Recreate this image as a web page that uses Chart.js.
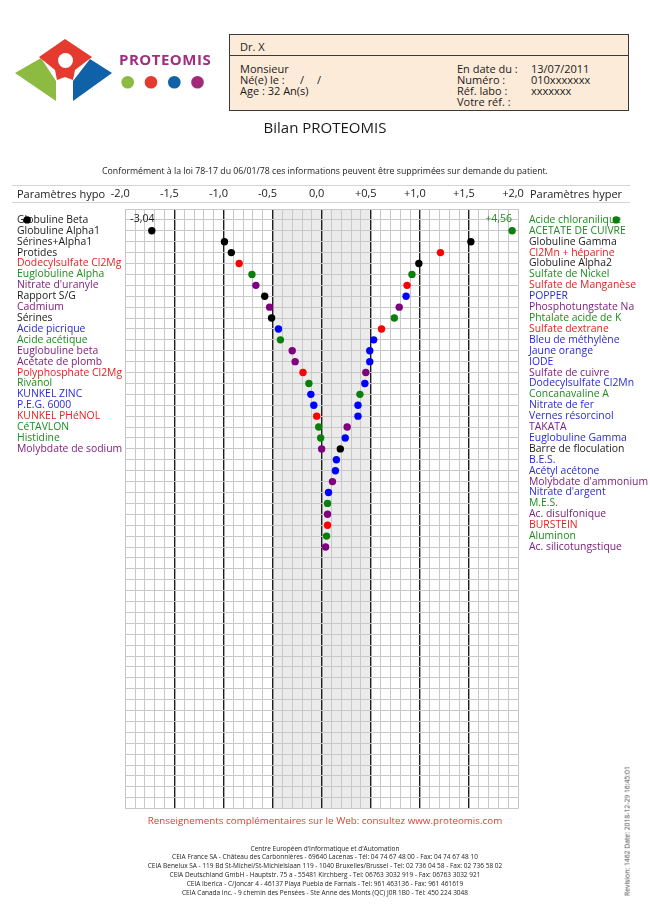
<!DOCTYPE html>
<html><head><meta charset="utf-8">
<script src="https://cdn.jsdelivr.net/npm/chart.js@4.4.1/dist/chart.umd.min.js"></script>
<style>
html,body{margin:0;padding:0;background:#fff;}
body{width:650px;height:918px;position:relative;overflow:hidden;font-family:'Open Sans',sans-serif;color:#1a1a1a;}
.t{position:absolute;white-space:nowrap;line-height:1;}
#c{position:absolute;left:0;top:0;}
</style></head><body>
<canvas id="c" width="650" height="918"></canvas>

<svg style="position:absolute;left:0;top:0" width="230" height="110">
  <polygon points="15,73 41,58 56,81 56,101" fill="#8dba41"/>
  <polygon points="39,57 65,39 92,57 75,70 73,80 65,77 57,80 55,70" fill="#e53a2f"/>
  <circle cx="65.5" cy="60.5" r="7.5" fill="#fff"/>
  <polygon points="90,59 112,73 73,101 73,81" fill="#0f62a8"/>
  <circle cx="127.7" cy="82.3" r="6.3" fill="#8dba41"/>
  <circle cx="151" cy="82.3" r="6.3" fill="#e53a2f"/>
  <circle cx="174.3" cy="82.3" r="6.3" fill="#0f62a8"/>
  <circle cx="197.5" cy="82.3" r="6.3" fill="#a22a7b"/>
</svg>
<div class="t" style="left:119px;top:51.5px;font-size:15px;font-weight:bold;color:#a0307f;letter-spacing:0.5px">PROTEOMIS</div>

<div style="position:absolute;left:228.5px;top:34px;width:398px;height:75px;background:#fdebd9;border:1.5px solid #3a3a3a;"></div>
<div style="position:absolute;left:229px;top:55px;width:400px;height:0;border-top:1.5px solid #3a3a3a;"></div>
<div class="t" style="left:240px;top:40.7px;font-size:11px">Dr. X</div>
<div class="t" style="left:240px;top:62.7px;font-size:11px">Monsieur</div>
<div class="t" style="left:240px;top:74.4px;font-size:11px">Né(e) le :</div>
<div class="t" style="left:300px;top:74.4px;font-size:11px">/</div>
<div class="t" style="left:317px;top:74.4px;font-size:11px">/</div>
<div class="t" style="left:240px;top:85.4px;font-size:11px">Age : 32 An(s)</div>
<div class="t" style="left:457px;top:62.7px;font-size:11px">En date du :</div>
<div class="t" style="left:457px;top:74.4px;font-size:11px">Numéro :</div>
<div class="t" style="left:457px;top:85.4px;font-size:11px">Réf. labo :</div>
<div class="t" style="left:457px;top:96px;font-size:11px">Votre réf. :</div>
<div class="t" style="left:531px;top:62.7px;font-size:11px">13/07/2011</div>
<div class="t" style="left:531px;top:74.4px;font-size:11px">010xxxxxxx</div>
<div class="t" style="left:531px;top:85.4px;font-size:11px">xxxxxxx</div>

<div class="t" style="left:0;width:650px;text-align:center;top:119.5px;font-size:15px">Bilan PROTEOMIS</div>
<div class="t" style="left:0;width:650px;text-align:center;top:167px;font-size:8.75px">Conformément à la loi 78-17 du 06/01/78 ces informations peuvent être supprimées sur demande du patient.</div>

<div style="position:absolute;left:12px;top:185px;width:618px;border-top:1px solid #d4d4d4;"></div>
<div style="position:absolute;left:12px;top:202px;width:618px;border-top:1px solid #d4d4d4;"></div>
<div class="t" style="left:17px;top:187.7px;font-size:11px">Paramètres hypo</div>
<div class="t" style="left:530px;top:187.7px;font-size:11px">Paramètres hyper</div>

<div class="t" style="left:0;width:650px;text-align:center;top:816.4px;font-size:9.8px;color:#e83a30">Renseignements complémentaires sur le Web: consultez www.proteomis.com</div>
<div style="position:absolute;left:0;width:650px;text-align:center;top:844.6px;font-size:6.5px;line-height:8.8px;white-space:nowrap;color:#222">
Centre Européen d'Informatique et d'Automation<br>
CEIA France SA - Château des Carbonnières - 69640 Lacenas - Tél: 04 74 67 48 00 - Fax: 04 74 67 48 10<br>
CEIA Benelux SA - 119 Bd St-Michel/St-Michielslaan 119 - 1040 Bruxelles/Brussel - Tel: 02 736 04 58 - Fax: 02 736 58 02<br>
CEIA Deutschland GmbH - Hauptstr. 75 a - 55481 Kirchberg - Tel: 06763 3032 919 - Fax: 06763 3032 921<br>
CEIA Iberica - C/Joncar 4 - 46137 Playa Puebla de Farnals - Tel: 961 463136 - Fax: 961 461619<br>
CEIA Canada Inc. - 9 chemin des Pensées - Ste Anne des Monts (QC) J0R 1B0 - Tél: 450 224 3048
</div>
<div class="t" style="left:628px;top:831px;font-size:6.8px;color:#444;transform:translate(-50%,-50%) rotate(-90deg);">Revision: 1462 Date: 2018-12-29 16:45:01</div>

<script>
const rowLabelsHypo = ["Globuline Beta","Globuline Alpha1","Sérines+Alpha1","Protides","Dodecylsulfate Cl2Mg","Euglobuline Alpha","Nitrate d'uranyle","Rapport S/G","Cadmium","Sérines","Acide picrique","Acide acétique","Euglobuline beta","Acétate de plomb","Polyphosphate Cl2Mg","Rivanol","KUNKEL ZINC","P.E.G. 6000","KUNKEL PHéNOL","CéTAVLON","Histidine","Molybdate de sodium"];
const rowGroupsHypo = ["k","k","k","k","r","g","p","k","p","k","b","g","p","p","r","g","b","b","r","g","g","p"];
const valuesHypo = [-3.04,-1.73,-0.99,-0.92,-0.84,-0.71,-0.67,-0.58,-0.53,-0.51,-0.44,-0.42,-0.30,-0.27,-0.19,-0.13,-0.11,-0.08,-0.05,-0.03,-0.01,0.00];

const rowLabelsHyper = ["Acide chloranilique","ACETATE DE CUIVRE","Globuline Gamma","Cl2Mn + héparine","Globuline Alpha2","Sulfate de Nickel","Sulfate de Manganèse","POPPER","Phosphotungstate Na","Phtalate acide de K","Sulfate dextrane","Bleu de méthylène","Jaune orange","IODE","Sulfate de cuivre","Dodecylsulfate Cl2Mn","Concanavaline A","Nitrate de fer","Vernes résorcinol","TAKATA","Euglobuline Gamma","Barre de floculation","B.E.S.","Acétyl acétone","Molybdate d'ammonium","Nitrate d'argent","M.E.S.","Ac. disulfonique","BURSTEIN","Aluminon","Ac. silicotungstique"];
const rowGroupsHyper = ["g","g","k","r","k","g","r","b","p","g","r","b","b","b","p","b","g","b","b","p","b","k","b","b","p","b","g","p","r","g","p"];
const valuesHyper = [4.56,1.94,1.52,1.21,0.99,0.92,0.87,0.86,0.79,0.74,0.61,0.53,0.49,0.49,0.45,0.44,0.39,0.37,0.37,0.26,0.24,0.19,0.15,0.14,0.11,0.07,0.06,0.06,0.06,0.05,0.04];

const xTickLabels = ["-2,0","-1,5","-1,0","-0,5","0,0","+0,5","+1,0","+1,5","+2,0"];

const textColors = {k:'#1a1a1a', r:'#e52222', g:'#1f8a1f', b:'#2a2ad6', p:'#7d207d'};
const dotColors = {k:'#000000', r:'#ff0000', g:'#0b7f0b', b:'#0000ff', p:'#800080'};
const CLAMP = 3;
const ROW_MIN = -1, ROW_MAX = 54;

const fmtVal = v => (v > 0 ? '+' : '') + v.toFixed(2).replace('.', ',');
const tenth = v => Math.round(v * 10);
const isMajor = v => Math.abs(tenth(v)) % 5 === 0;
const toPoints = vals => vals.map((v, i) => ({x: Math.max(-CLAMP, Math.min(CLAMP, v)), y: i}));

const bandPlugin = {
  id: 'band',
  beforeDraw(chart) {
    const {ctx, chartArea, scales: {x}} = chart;
    const a = x.getPixelForValue(-0.5), b = x.getPixelForValue(0.5);
    ctx.save();
    ctx.fillStyle = '#ebebeb';
    ctx.fillRect(a, chartArea.top, b - a, chartArea.bottom - chartArea.top);
    ctx.restore();
  }
};
const outlierPlugin = {
  id: 'outliers',
  afterDatasetsDraw(chart) {
    const {ctx, chartArea, scales: {y}} = chart;
    const fullArea = {left: 0, top: 0, right: chart.width, bottom: chart.height};
    ctx.save();
    ctx.font = '10.5px "Open Sans"';
    ctx.textBaseline = 'middle';
    [[valuesHypo, rowGroupsHypo, 0], [valuesHyper, rowGroupsHyper, 1]].forEach(([vals, groups, di]) => {
      const meta = chart.getDatasetMeta(di);
      vals.forEach((v, i) => {
        if (Math.abs(v) > 2) {
          ctx.fillStyle = textColors[groups[i]];
          ctx.textAlign = v < 0 ? 'left' : 'right';
          const tx = v < 0 ? chartArea.left + 5 : chartArea.right - 6;
          ctx.fillText(fmtVal(v), tx, y.getPixelForValue(i) - 1);
          meta.data[i].draw(ctx, fullArea);
        }
      });
    });
    ctx.restore();
  }
};

const rowTicks = s => { s.ticks = []; for (let r = ROW_MIN; r <= ROW_MAX; r++) s.ticks.push({value: r}); };
const font = {family: "'Open Sans'", size: 10.4};

new Chart(document.getElementById('c'), {
  type: 'scatter',
  data: {
    datasets: [
      {data: toPoints(valuesHypo), pointBackgroundColor: rowGroupsHypo.map(g => dotColors[g]), pointRadius: 3.7, pointHoverRadius: 3.7, pointBorderWidth: 0, clip: false, yAxisID: 'y'},
      {data: toPoints(valuesHyper), pointBackgroundColor: rowGroupsHyper.map(g => dotColors[g]), pointRadius: 3.7, pointHoverRadius: 3.7, pointBorderWidth: 0, clip: false, yAxisID: 'y'}
    ]
  },
  options: {
    responsive: false, animation: false, events: [],
    layout: {padding: {top: 185, left: 17, right: 0, bottom: 109.3}},
    plugins: {legend: {display: false}, tooltip: {enabled: false}},
    scales: {
      x: {
        type: 'linear', position: 'top', min: -2, max: 2,
        afterBuildTicks: s => { s.ticks = []; for (let k = -20; k <= 20; k++) s.ticks.push({value: k / 10}); },
        afterFit: s => { s.height = 24; },
        grid: {
          drawTicks: false,
          color: c => { const v = c.tick ? c.tick.value : 0; if (Math.abs(v) > 1.99) return '#c4c4c4'; return isMajor(v) ? '#1e1e1e' : '#c8c8c8'; },
          lineWidth: c => { const v = c.tick ? c.tick.value : 0; return (isMajor(v) && Math.abs(v) < 1.99) ? 1.4 : 1; }
        },
        border: {display: false},
        ticks: {
          autoSkip: false, maxRotation: 0, minRotation: 0, padding: 8.4, labelOffset: -5,
          font: {family: "'Open Sans'", size: 11}, color: '#1a1a1a',
          callback: v => isMajor(v) ? xTickLabels[(tenth(v) + 20) / 5] : ''
        }
      },
      y: {
        type: 'linear', position: 'left', min: ROW_MIN, max: ROW_MAX, reverse: true,
        afterBuildTicks: rowTicks,
        afterFit: s => { s.width = 108.3; },
        grid: {drawTicks: false, color: '#c8c8c8', lineWidth: 1, z: -1},
        border: {display: false},
        ticks: {
          autoSkip: false, crossAlign: 'far', padding: 0, font,
          color: c => textColors[rowGroupsHypo[c.tick.value]] || '#1a1a1a',
          callback: v => rowLabelsHypo[v] ?? ''
        }
      },
      y2: {
        type: 'linear', position: 'right', min: ROW_MIN, max: ROW_MAX, reverse: true,
        afterBuildTicks: rowTicks,
        afterFit: s => { s.width = 132; },
        grid: {display: false, drawTicks: false},
        border: {display: false},
        ticks: {
          autoSkip: false, padding: 11, font,
          color: c => textColors[rowGroupsHyper[c.tick.value]] || '#1a1a1a',
          callback: v => rowLabelsHyper[v] ?? ''
        }
      }
    }
  },
  plugins: [bandPlugin, outlierPlugin]
});
</script>
</body></html>
